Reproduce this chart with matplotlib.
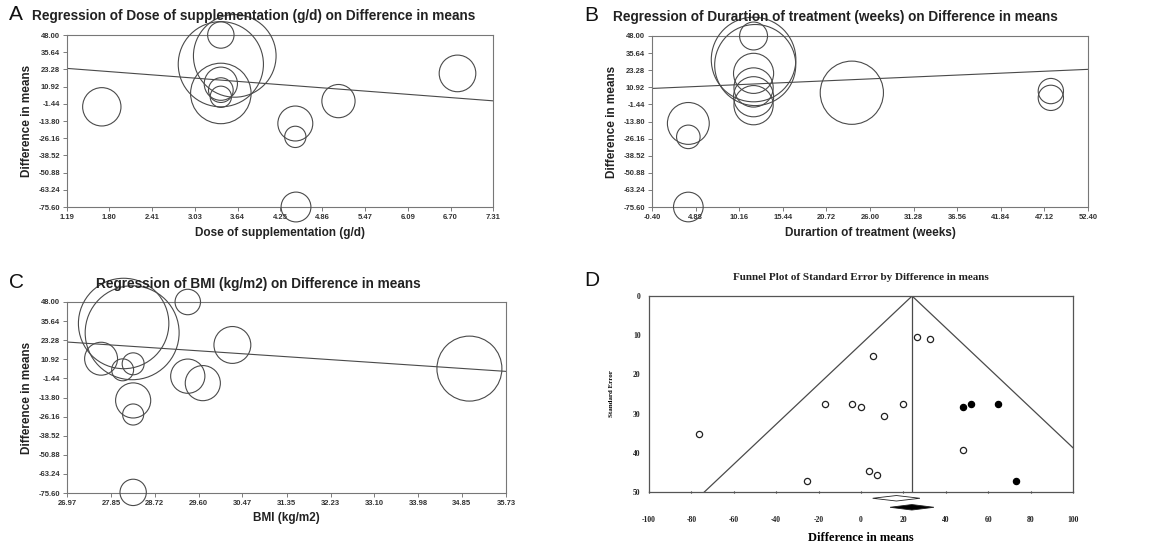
"""
Meta-regression bubble plots (dose, duration, BMI) and funnel plot
"""

### Import modules
import numpy as np
import matplotlib.pyplot as plt
from matplotlib.patches import Polygon

### Data
### A: dose of supplementation (g/d)
dose = [1.69, 3.40, 3.60, 3.40, 3.40, 3.40, 3.40, 3.40, 4.47, 4.47, 4.48, 5.09, 6.80]
dose_diff = [-3.6, 27.0, 33.0, 48.0, 6.0, 13.0, 8.4, 3.6, -15.6, -25.2, -75.6, 0.5, 20.4]
dose_wt = [4.5, 10.0, 9.7, 3.1, 7.1, 3.9, 2.9, 2.5, 4.1, 2.5, 3.5, 3.9, 4.3]
dose_fit = [28.53, -3.807]
dose_ticks = ['1.19', '1.80', '2.41', '3.03', '3.64', '4.25', '4.86', '5.47',
              '6.09', '6.70', '7.31']

### B: duration of treatment (weeks)
dur = [4.0, 4.0, 4.0, 11.9, 12.1, 11.9, 11.9, 11.9, 11.9, 11.9, 23.8, 47.9, 47.9]
dur_diff = [-15.2, -24.9, -75.6, 31.0, 27.0, 48.0, 21.0, 10.8, 4.1, -2.0, 7.0, 8.2, 3.3]
dur_wt = [4.8, 2.7, 3.4, 9.7, 9.3, 3.2, 4.6, 4.5, 4.6, 4.5, 7.25, 2.9, 2.9]
dur_fit = [10.2, 0.2614]
dur_ticks = ['-0.40', '4.88', '10.16', '15.44', '20.72', '26.00', '31.28', '36.56',
             '41.84', '47.12', '52.40']

### C: BMI (kg/m2)
bmi = [28.10, 28.27, 27.65, 28.08, 28.29, 28.29, 28.29, 28.29, 29.38, 29.38, 29.68,
       30.27, 35.0]
bmi_diff = [34.1, 28.1, 11.3, 4.1, 8.0, -15.7, -24.8, -75.2, 48.0, 0.0, -4.5, 20.2, 4.9]
bmi_wt = [10.3, 10.7, 3.75, 2.5, 2.5, 4.0, 2.4, 3.0, 2.9, 3.9, 4.0, 4.2, 7.4]
bmi_fit = [80.6, -2.169]
bmi_ticks = ['26.97', '27.85', '28.72', '29.60', '30.47', '31.35', '32.23', '33.10',
             '33.98', '34.85', '35.73']

y_ticks = ['48.00', '35.64', '23.28', '10.92', '-1.44', '-13.80', '-26.16', '-38.52',
           '-50.88', '-63.24', '-75.60']

### D: funnel plot
obs_x = [26.2, 32.5, 5.8, -17.0, -4.4, -0.2, 19.6, 10.8, -76.2, 47.9, 3.6, 7.7, -25.6]
obs_se = [10.4, 10.95, 15.4, 27.5, 27.5, 28.2, 27.5, 30.7, 35.1, 39.2, 44.7, 45.6, 47.3]
imp_x = [47.9, 51.8, 64.7, 73.1]
imp_se = [28.2, 27.5, 27.5, 47.3]
pooled = 24.1
obs_ci = [5.5, 16.7, 27.8]
imp_ci = [13.7, 24.0, 34.4]

###############################################################################
### Plot figures
plt.rcParams['font.family'] = ['Liberation Sans', 'DejaVu Sans']
plt.rcParams['axes.unicode_minus'] = False
dpi = 100
fig = plt.figure(figsize=(11.61, 5.45), dpi=dpi)

grey = '#4a4a4a'

def bubble(pos, x, y, wt, fit, xt, title, xlabel, letter, tx, ty, lx):
    ax = fig.add_axes(pos)
    xv = [float(t) for t in xt]
    yv = [float(t) for t in y_ticks]
    ax.set_xlim(xv[0], xv[-1])
    ax.set_ylim(yv[-1], yv[0])
    wpx = pos[2] * fig.get_figwidth() * dpi
    rad = np.array(wt) / 100. * wpx * 72. / dpi
    ax.scatter(x, y, s=(2 * rad) ** 2, facecolors='none', edgecolors=grey,
               linewidths=0.8, clip_on=False, zorder=3)
    xx = np.array([xv[0], xv[-1]])
    ax.plot(xx, fit[0] + fit[1] * xx, color=grey, lw=0.8, zorder=2)
    ax.set_xticks(xv)
    ax.set_xticklabels(xt)
    ax.set_yticks(yv)
    ax.set_yticklabels(y_ticks)
    ax.tick_params(labelsize=5.5, length=3, width=0.6, color='#666666',
                   labelcolor='#333333', pad=2)
    for lab in ax.get_xticklabels() + ax.get_yticklabels():
        lab.set_fontweight('bold')
    for sp in ax.spines.values():
        sp.set_color('#777777')
        sp.set_linewidth(0.8)
    ax.set_xlabel(xlabel, fontsize=8.5, fontweight='bold', color='#222222',
                  labelpad=4)
    ax.set_ylabel('Difference in means', fontsize=8.5, fontweight='bold',
                  color='#222222', labelpad=4)
    fig.text(tx, ty, title, fontsize=9.8, fontweight='bold', color='#222222',
             ha='left' if letter != 'C' else 'center', va='center')
    fig.text(lx, ty + 0.002, letter, fontsize=15, color='#111111', va='center')
    return ax

W, H = 1161., 545.
bubble([67 / W, 1 - 207 / H, 426 / W, 172 / H], dose, dose_diff, dose_wt, dose_fit,
       dose_ticks, 'Regression of Dose of supplementation (g/d) on Difference in means',
       'Dose of supplementation (g/d)', 'A', 32 / W, 1 - 16 / H, 9 / W)
bubble([652 / W, 1 - 207 / H, 436 / W, 171 / H], dur, dur_diff, dur_wt, dur_fit,
       dur_ticks, 'Regression of Durartion of treatment (weeks) on Difference in means',
       'Durartion of treatment (weeks)', 'B', 613 / W, 1 - 17 / H, 584 / W)
bubble([67 / W, 1 - 493 / H, 439 / W, 191 / H], bmi, bmi_diff, bmi_wt, bmi_fit,
       bmi_ticks, 'Regression of BMI (kg/m2) on Difference in means',
       'BMI (kg/m2)', 'C', 258 / W, 1 - 284 / H, 9 / W)

### Funnel plot
serif = ['Liberation Serif', 'DejaVu Serif']
axd = fig.add_axes([649 / W, 1 - 492 / H, 424 / W, 196 / H])
axd.set_xlim(-100, 100)
axd.set_ylim(50, 0)
se = np.array([0, 50])
axd.plot(pooled - 1.96 * se, se, color=grey, lw=0.9)
axd.plot(pooled + 1.96 * se, se, color=grey, lw=0.9)
axd.plot([pooled, pooled], [0, 50], color=grey, lw=0.9)
axd.scatter(obs_x, obs_se, s=20, facecolors='white', edgecolors='#222222',
            linewidths=0.9, zorder=3)
axd.scatter(imp_x, imp_se, s=20, facecolors='black', edgecolors='black',
            linewidths=0.9, zorder=3)
for ci, yy, fc in [(obs_ci, 51.6, 'white'), (imp_ci, 53.9, 'black')]:
    dia = Polygon([[ci[0], yy], [ci[1], yy - 0.7], [ci[2], yy], [ci[1], yy + 0.7]],
                  closed=True, facecolor=fc, edgecolor='#222222', lw=0.6,
                  clip_on=False)
    axd.add_patch(dia)
axd.set_xticks(np.arange(-100, 101, 20))
axd.set_yticks(np.arange(0, 51, 10))
axd.tick_params(axis='x', length=2, width=0.8, direction='inout', pad=16,
                labelsize=5.5, colors='#222222')
axd.tick_params(axis='y', length=0, pad=6, labelsize=5.5, colors='#222222')
for lab in axd.get_xticklabels() + axd.get_yticklabels():
    lab.set_family(serif)
    lab.set_fontweight('bold')
for sp in axd.spines.values():
    sp.set_color('#555555')
    sp.set_linewidth(0.9)
axd.set_xlabel('Difference in means', fontsize=9, fontweight='bold',
               family=serif, labelpad=6)
axd.set_ylabel('Standard Error', fontsize=5, fontweight='bold', family=serif,
               labelpad=14)
fig.text(861 / W, 1 - 277 / H, 'Funnel Plot of Standard Error by Difference in means',
         fontsize=8, fontweight='bold', family=serif, ha='center', va='center',
         color='#222222')
fig.text(584 / W, 1 - 281 / H, 'D', fontsize=15, color='#111111', va='center')

plt.savefig('out.png', dpi=dpi)
